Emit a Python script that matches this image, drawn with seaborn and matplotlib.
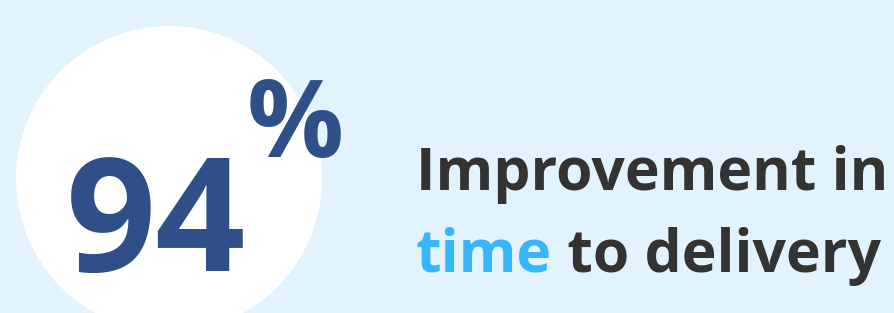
import matplotlib
matplotlib.use('Agg')
import matplotlib.pyplot as plt
import seaborn as sns
from matplotlib.patches import Circle

# Datos de la infografía
valor = 94
unidad = "%"
linea_1 = "Improvement in"
linea_2_resaltado = "time"
linea_2_resto = " to delivery"

FONDO = '#E3F3FE'
AZUL_OSCURO = '#2E4F88'
AZUL_CLARO = '#38B6FC'
GRIS = '#333333'

sns.set_theme(style='white')
plt.rcParams['font.family'] = ['Open Sans', 'DejaVu Sans']

fig = plt.figure(figsize=(8.94, 3.13), dpi=100, facecolor=FONDO)
ax = fig.add_axes([0, 0, 1, 1])
ax.set_facecolor(FONDO)
ax.set_xlim(0, 894)
ax.set_ylim(313, 0)
ax.axis('off')


def texto_ajustado(x, y, cadena, ancho_px, color, tam=40):
    """Dibuja el texto y ajusta el tamaño para que ocupe ancho_px."""
    t = ax.text(x, y, cadena, fontsize=tam, fontweight='bold', color=color,
                ha='left', va='baseline')
    fig.canvas.draw()
    w = t.get_window_extent().width
    t.set_fontsize(tam * ancho_px / w)
    return t


# Círculo blanco de fondo
ax.add_patch(Circle((169, 179), 153, facecolor='white', edgecolor='none'))

# Número grande y símbolo de porcentaje
texto_ajustado(66, 271, str(valor), 180, AZUL_OSCURO, 110)
texto_ajustado(247, 157, unidad, 97, AZUL_OSCURO, 80)

# Titular en dos líneas
t1 = texto_ajustado(416, 190, linea_1, 472, GRIS, 44)
tam = t1.get_fontsize()
t = ax.text(416, 272, linea_2_resaltado, fontsize=tam, fontweight='bold',
            color=AZUL_CLARO, ha='left', va='baseline')
fig.canvas.draw()
ancho = t.get_window_extent().width
ax.text(416 + ancho, 272, linea_2_resto, fontsize=tam, fontweight='bold',
        color=GRIS, ha='left', va='baseline')

fig.savefig('out.png', dpi=100, facecolor=FONDO)
